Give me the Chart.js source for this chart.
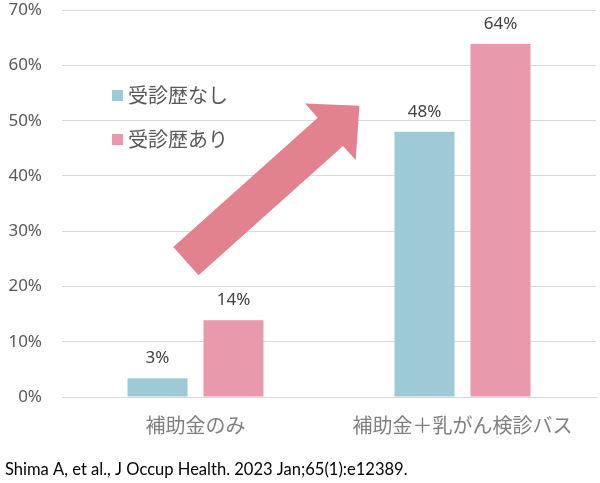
<!DOCTYPE html>
<html>
<head>
<meta charset="utf-8">
<script src="https://cdn.jsdelivr.net/npm/chart.js@4"></script>
<style>
  body { margin: 0; background: #fff; }
  #wrap { width: 600px; height: 483px; position: relative; }
</style>
</head>
<body>
<div id="wrap"><canvas id="examChart" width="600" height="483"></canvas></div>
<script>
// data
const categories = ['補助金のみ', '補助金＋乳がん検診バス'];
const seriesNames = ['受診歴なし', '受診歴あり'];
const noHistory = [3.4, 48];
const withHistory = [13.9, 63.9];
const valueLabels = [['3%', '48%'], ['14%', '64%']];
const yTicks = [0, 10, 20, 30, 40, 50, 60, 70];
const sourceNote = 'Shima A, et al., J Occup Health. 2023 Jan;65(1):e12389.';

const blue = '#9ECAD6';
const pink = '#E899AB';
const arrowColor = '#E3828F';
const jpFont = '"Noto Sans CJK JP", "Noto Sans", sans-serif';

// labels above bars
const barLabels = {
  id: 'barLabels',
  afterDatasetsDraw(chart) {
    const ctx = chart.ctx;
    ctx.save();
    ctx.font = '17px "Noto Sans", sans-serif';
    ctx.fillStyle = '#404040';
    ctx.textAlign = 'center';
    ctx.textBaseline = 'middle';
    chart.data.datasets.forEach((ds, i) => {
      chart.getDatasetMeta(i).data.forEach((bar, j) => {
        ctx.fillText(valueLabels[i][j], bar.x, bar.y - 20);
      });
    });
    ctx.restore();
  }
};

// legend drawn inside the plot, top left
const innerLegend = {
  id: 'innerLegend',
  afterDraw(chart) {
    const ctx = chart.ctx;
    ctx.save();
    ctx.font = '20px ' + jpFont;
    ctx.textBaseline = 'middle';
    chart.data.datasets.forEach((ds, i) => {
      const y = 95 + i * 44;
      ctx.fillStyle = ds.backgroundColor;
      ctx.fillRect(112, y - 5, 11, 11);
      ctx.fillStyle = '#595959';
      ctx.fillText(ds.label, 128, y);
    });
    ctx.restore();
  }
};

// big arrow, anchored on the scales
const bigArrow = {
  id: 'bigArrow',
  afterDatasetsDraw(chart) {
    const { ctx, scales: { x, y } } = chart;
    const x0 = x.getPixelForValue(-0.036), y0 = y.getPixelForValue(24.6);
    const x1 = x.getPixelForValue(0.614), y1 = y.getPixelForValue(52.7);
    const len = Math.hypot(x1 - x0, y1 - y0);
    const ang = Math.atan2(y1 - y0, x1 - x0);
    const shaft = 19, head = 38, headLen = 39;
    ctx.save();
    ctx.translate(x0, y0);
    ctx.rotate(ang);
    ctx.beginPath();
    ctx.moveTo(0, -shaft);
    ctx.lineTo(len - headLen, -shaft);
    ctx.lineTo(len - headLen, -head);
    ctx.lineTo(len, 0);
    ctx.lineTo(len - headLen, head);
    ctx.lineTo(len - headLen, shaft);
    ctx.lineTo(0, shaft);
    ctx.closePath();
    ctx.fillStyle = arrowColor;
    ctx.fill();
    ctx.restore();
  }
};

// source line at the bottom, sized to span the same width as the original
const footNote = {
  id: 'footNote',
  afterDraw(chart) {
    const ctx = chart.ctx;
    ctx.save();
    ctx.font = '15px Lato, sans-serif';
    const w = ctx.measureText(sourceNote).width;
    const size = 15 * 403 / w;
    ctx.font = size.toFixed(2) + 'px Lato, sans-serif';
    ctx.fillStyle = '#000';
    ctx.textBaseline = 'middle';
    ctx.fillText(sourceNote, 5, 470);
    ctx.restore();
  }
};

new Chart(document.getElementById('examChart'), {
  type: 'bar',
  data: {
    labels: categories,
    datasets: [
      { label: seriesNames[0], data: noHistory, backgroundColor: blue },
      { label: seriesNames[1], data: withHistory, backgroundColor: pink }
    ]
  },
  options: {
    responsive: false,
    animation: false,
    categoryPercentage: 0.569,
    barPercentage: 0.79,
    layout: { padding: { top: 0, right: 4, bottom: 38, left: 0 } },
    plugins: {
      legend: { display: false },
      tooltip: { enabled: false }
    },
    scales: {
      x: {
        grid: { display: false, drawTicks: false },
        border: { display: true, color: '#d9d9d9', width: 1 },
        ticks: { color: '#7f7f7f', font: { family: jpFont, size: 20 }, padding: 16 },
        afterFit(s) { s.height = 48; }
      },
      y: {
        min: 0, max: 70,
        afterBuildTicks(s) { s.ticks = yTicks.map(v => ({ value: v })); },
        // invisible tick marks make the gap between labels and plot
        grid: { color: '#d9d9d9', lineWidth: 1, drawTicks: true, tickLength: 20, tickColor: 'rgba(0,0,0,0)' },
        border: { display: false },
        ticks: {
          color: '#595959',
          font: { family: '"Noto Sans", sans-serif', size: 17 },
          padding: 0,
          callback: v => v + '%'
        },
        afterFit(s) { s.width = 62; }
      }
    }
  },
  plugins: [bigArrow, barLabels, innerLegend, footNote]
});
</script>
</body>
</html>
